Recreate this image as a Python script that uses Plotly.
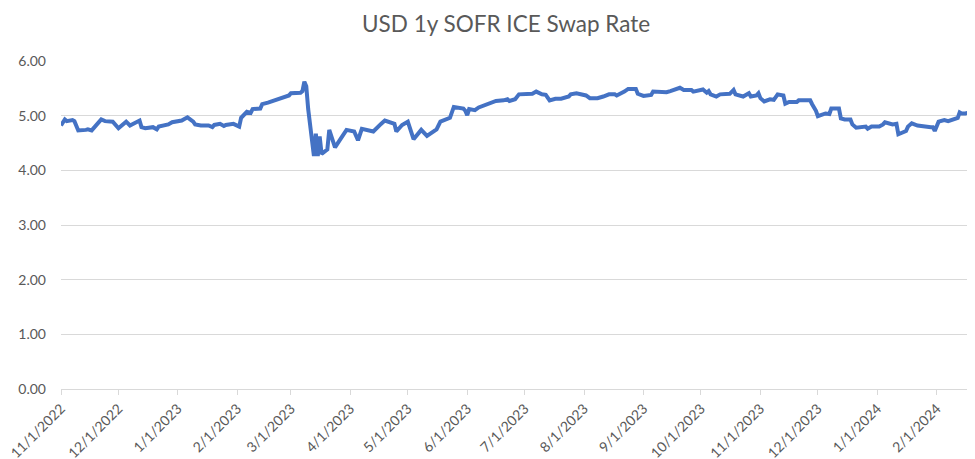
import plotly.graph_objects as go

dates = [
    "2022-11-01", "2022-11-03", "2022-11-04", "2022-11-07", "2022-11-08", "2022-11-10", "2022-11-14", "2022-11-15",
    "2022-11-17", "2022-11-21", "2022-11-22", "2022-11-24", "2022-11-28", "2022-12-01", "2022-12-05", "2022-12-07",
    "2022-12-12", "2022-12-13", "2022-12-15", "2022-12-19", "2022-12-21", "2022-12-22", "2022-12-27", "2022-12-29",
    "2023-01-03", "2023-01-06", "2023-01-09", "2023-01-10", "2023-01-13", "2023-01-17", "2023-01-19", "2023-01-20",
    "2023-01-23", "2023-01-25", "2023-01-26", "2023-01-30", "2023-02-01", "2023-02-02", "2023-02-03", "2023-02-06",
    "2023-02-08", "2023-02-09", "2023-02-13", "2023-02-14", "2023-02-17", "2023-02-21", "2023-02-23", "2023-02-27",
    "2023-02-28", "2023-03-01", "2023-03-06", "2023-03-07", "2023-03-08", "2023-03-09", "2023-03-10", "2023-03-13",
    "2023-03-14", "2023-03-15", "2023-03-16", "2023-03-17", "2023-03-20", "2023-03-21", "2023-03-24", "2023-03-27",
    "2023-03-30", "2023-04-03", "2023-04-05", "2023-04-07", "2023-04-10", "2023-04-13", "2023-04-17", "2023-04-19",
    "2023-04-24", "2023-04-25", "2023-04-28", "2023-05-01", "2023-05-04", "2023-05-08", "2023-05-11", "2023-05-15",
    "2023-05-16", "2023-05-18", "2023-05-23", "2023-05-25", "2023-05-30", "2023-05-31", "2023-06-01", "2023-06-02",
    "2023-06-05", "2023-06-07", "2023-06-09", "2023-06-13", "2023-06-16", "2023-06-20", "2023-06-22", "2023-06-23",
    "2023-06-26", "2023-06-28", "2023-07-03", "2023-07-05", "2023-07-07", "2023-07-10", "2023-07-12", "2023-07-14",
    "2023-07-17", "2023-07-20", "2023-07-24", "2023-07-25", "2023-07-28", "2023-07-31", "2023-08-02", "2023-08-04",
    "2023-08-08", "2023-08-11", "2023-08-14", "2023-08-17", "2023-08-18", "2023-08-22", "2023-08-24", "2023-08-28",
    "2023-08-29", "2023-09-01", "2023-09-05", "2023-09-06", "2023-09-11", "2023-09-13", "2023-09-15", "2023-09-20",
    "2023-09-22", "2023-09-26", "2023-09-27", "2023-10-02", "2023-10-04", "2023-10-05", "2023-10-06", "2023-10-09",
    "2023-10-11", "2023-10-16", "2023-10-18", "2023-10-19", "2023-10-23", "2023-10-24", "2023-10-26", "2023-10-27",
    "2023-10-30", "2023-10-31", "2023-11-01", "2023-11-03", "2023-11-06", "2023-11-08", "2023-11-10", "2023-11-13",
    "2023-11-14", "2023-11-16", "2023-11-20", "2023-11-21", "2023-11-27", "2023-11-28", "2023-11-30", "2023-12-01",
    "2023-12-05", "2023-12-07", "2023-12-08", "2023-12-12", "2023-12-13", "2023-12-15", "2023-12-18", "2023-12-19",
    "2023-12-21", "2023-12-26", "2023-12-27", "2023-12-29", "2024-01-02", "2024-01-04", "2024-01-05", "2024-01-09",
    "2024-01-11", "2024-01-12", "2024-01-16", "2024-01-17", "2024-01-19", "2024-01-22", "2024-01-25", "2024-01-29",
    "2024-01-30", "2024-01-31", "2024-02-02", "2024-02-05", "2024-02-07", "2024-02-09", "2024-02-12", "2024-02-13",
    "2024-02-14", "2024-02-16", "2024-02-20",
]

swap_rate = [
    4.82, 4.93, 4.90, 4.92, 4.90, 4.73, 4.74, 4.75,
    4.73, 4.89, 4.93, 4.90, 4.89, 4.77, 4.89, 4.82,
    4.91, 4.79, 4.77, 4.79, 4.75, 4.80, 4.84, 4.88,
    4.91, 4.97, 4.89, 4.84, 4.82, 4.82, 4.79, 4.83,
    4.85, 4.81, 4.83, 4.85, 4.81, 4.80, 4.96, 5.07,
    5.05, 5.12, 5.13, 5.21, 5.24, 5.29, 5.31, 5.35,
    5.37, 5.41, 5.42, 5.45, 5.62, 5.54, 5.12, 4.26,
    4.67, 4.26, 4.62, 4.30, 4.38, 4.74, 4.42, 4.58,
    4.74, 4.71, 4.55, 4.76, 4.74, 4.71, 4.85, 4.91,
    4.85, 4.71, 4.83, 4.89, 4.57, 4.74, 4.63, 4.71,
    4.75, 4.89, 4.96, 5.16, 5.13, 5.09, 5.01, 5.12,
    5.10, 5.15, 5.18, 5.24, 5.27, 5.28, 5.30, 5.27,
    5.30, 5.39, 5.39, 5.40, 5.44, 5.39, 5.38, 5.28,
    5.31, 5.31, 5.35, 5.39, 5.41, 5.39, 5.37, 5.32,
    5.32, 5.35, 5.39, 5.39, 5.37, 5.44, 5.49, 5.49,
    5.40, 5.36, 5.38, 5.44, 5.43, 5.43, 5.45, 5.51,
    5.47, 5.47, 5.44, 5.48, 5.42, 5.45, 5.39, 5.35,
    5.39, 5.40, 5.47, 5.39, 5.35, 5.37, 5.41, 5.35,
    5.37, 5.41, 5.32, 5.26, 5.30, 5.29, 5.39, 5.37,
    5.22, 5.25, 5.25, 5.28, 5.28, 5.21, 5.09, 4.99,
    5.04, 5.03, 5.13, 5.13, 4.95, 4.93, 4.93, 4.84,
    4.78, 4.80, 4.76, 4.80, 4.80, 4.84, 4.88, 4.84,
    4.85, 4.66, 4.72, 4.80, 4.86, 4.82, 4.80, 4.79,
    4.79, 4.72, 4.89, 4.92, 4.90, 4.92, 4.96, 5.06,
    5.04, 5.04, 5.08,
]

tick_dates = [
    "2022-11-01", "2022-12-01", "2023-01-01", "2023-02-01", "2023-03-01", "2023-04-01",
    "2023-05-01", "2023-06-01", "2023-07-01", "2023-08-01", "2023-09-01", "2023-10-01",
    "2023-11-01", "2023-12-01", "2024-01-01", "2024-02-01",
]
tick_labels = [
    "11/1/2022", "12/1/2022", "1/1/2023", "2/1/2023", "3/1/2023", "4/1/2023",
    "5/1/2023", "6/1/2023", "7/1/2023", "8/1/2023", "9/1/2023", "10/1/2023",
    "11/1/2023", "12/1/2023", "1/1/2024", "2/1/2024",
]
y_ticks = [0, 1, 2, 3, 4, 5, 6]
y_tick_labels = ["0.00", "1.00", "2.00", "3.00", "4.00", "5.00", "6.00"]

title_text = "USD 1y SOFR ICE Swap Rate"

fig = go.Figure()
fig.add_trace(go.Scatter(
    x=dates, y=swap_rate, mode="lines",
    line=dict(color="#4472C4", width=4, shape="linear"),
    hoverinfo="x+y", showlegend=False,
))

FONT = "Lato, 'Open Sans', sans-serif"
GRAY = "#595959"

# the HTML page adds an 8px body margin, so the figure is sized/offset to compensate
fig.update_layout(
    width=967, height=451,
    margin=dict(l=53, r=0, t=53, b=70, autoexpand=False),
    paper_bgcolor="white", plot_bgcolor="white",
    font=dict(family=FONT, color=GRAY, size=14),
    title=dict(text=title_text, x=0.487, xanchor="center", xref="paper", y=0.9645, yref="container",
               yanchor="middle", automargin=False,
               font=dict(family=FONT, size=22.5, color=GRAY)),
)
fig.update_xaxes(
    type="date", range=["2022-11-01", "2024-02-21"], automargin=False,
    tickmode="array", tickvals=tick_dates, ticktext=tick_labels, tickangle=-45,
    ticklabeloverflow="allow",
    showgrid=False, showline=True, linecolor="#D9D9D9", linewidth=1,
    ticks="outside", ticklen=5, tickcolor="#D9D9D9",
    tickfont=dict(family=FONT, size=14, color=GRAY),
    zeroline=False,
)
fig.update_yaxes(
    range=[0, 6], tickmode="array", tickvals=y_ticks, ticktext=y_tick_labels, automargin=False,
    showgrid=True, gridcolor="#D9D9D9", gridwidth=1, zeroline=False, showline=False,
    ticks="", ticklabelstandoff=14,
    tickfont=dict(family=FONT, size=14, color=GRAY),
)

fig.write_html("out.html")
